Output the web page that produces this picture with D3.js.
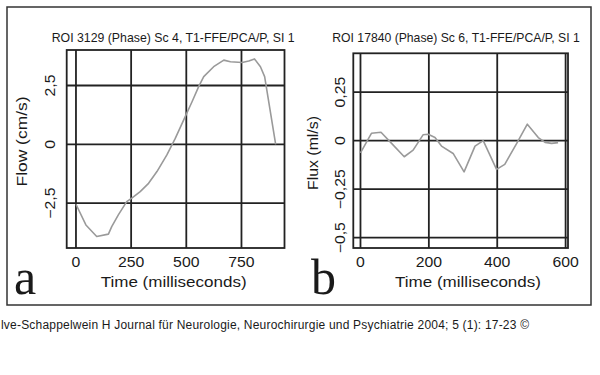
<!DOCTYPE html>
<html><head><meta charset="utf-8">
<script src="https://cdn.jsdelivr.net/npm/d3@7"></script>
<style>
html,body{margin:0;padding:0;background:#fff;}
svg{display:block;}
text{font-family:"Liberation Sans",Arial,sans-serif;fill:#1a1a1a;}
</style></head>
<body>
<script>
// ---- data ----
const aTime = [0,45,94,147,162,192,230,253,291,329,367,412,450,495,526,556,579,624,670,700,753,783,809,836,855,905];
const aFlow = [-2.55,-3.43,-3.92,-3.82,-3.50,-3.0,-2.44,-2.29,-2.01,-1.66,-1.16,-0.45,0.25,1.18,1.81,2.45,2.88,3.30,3.58,3.51,3.48,3.54,3.63,3.30,2.88,0];
const bTime = [0,32,60,91,128,154,183,198,218,237,271,303,335,359,398,422,457,488,520,540,559,578];
const bFlux = [-0.0625,0.038,0.043,-0.014,-0.083,-0.049,0.030,0.033,0.016,-0.028,-0.066,-0.161,-0.028,0,-0.148,-0.122,-0.014,0.085,0.016,-0.009,-0.014,-0.010];
const aXTicks = [0,250,500,750];
const aYTicks = [-2.5,0,2.5];
const aYTickLabels = ["\u22122,5","0","2,5"];
const bXTicks = [0,200,400,600];
const bYTicks = [-0.5,-0.25,0,0.25];
const bYTickLabels = ["\u22120,5","\u22120,25","0","0,25"];
const titles = ["ROI 3129 (Phase) Sc 4, T1-FFE/PCA/P, SI 1","ROI 17840 (Phase) Sc 6, T1-FFE/PCA/P, SI 1"];
const yTitles = ["Flow (cm/s)","Flux (ml/s)"];
const xTitle = "Time (milliseconds)";
const panelLetters = ["a","b"];
const footer = "lve-Schappelwein H Journal f\u00fcr Neurologie, Neurochirurgie und Psychiatrie 2004; 5 (1): 17-23 \u00a9";

const W=600,H=375;
const svg=d3.select("body").append("svg").attr("width",W).attr("height",H);

// outer frame
svg.append("rect").attr("x",7).attr("y",7).attr("width",584).attr("height",298)
  .attr("fill","none").attr("stroke","#333").attr("stroke-width",1.5);

const panels=[
 {time:aTime,vals:aFlow,xt:aXTicks,yt:aYTicks,ytl:aYTickLabels,xd:[-42,945],yd:[-4.41,4.01],
  L:66.7,R:284.5,T:50,B:248,title:titles[0],tx:51.7,tw:243,ytitle:yTitles[0],ytx:26.5,ytw:90,ytc:141.5,
  ytickx:55,xtc:173.7,letter:panelLetters[0],lx:14,lw:21},
 {time:bTime,vals:bFlux,xt:bXTicks,yt:bYTicks,ytl:bYTickLabels,xd:[-21,607],yd:[-0.553,0.45],
  L:353.3,R:568,T:53.3,B:248,title:titles[1],tx:332.3,tw:247.5,ytitle:yTitles[1],ytx:317.5,ytw:74,ytc:153,
  ytickx:345,xtc:468,letter:panelLetters[1],lx:311,lw:22}
];

panels.forEach(p=>{
  const x=d3.scaleLinear().domain(p.xd).range([p.L,p.R]);
  const y=d3.scaleLinear().domain(p.yd).range([p.B,p.T]);
  const g=svg.append("g");
  // frame
  g.append("rect").attr("x",p.L).attr("y",p.T).attr("width",p.R-p.L).attr("height",p.B-p.T)
    .attr("fill","none").attr("stroke","#222").attr("stroke-width",1.8);
  // grid
  g.selectAll(".vg").data(p.xt).enter().append("line")
    .attr("x1",d=>x(d)).attr("x2",d=>x(d)).attr("y1",p.T).attr("y2",p.B)
    .attr("stroke","#222").attr("stroke-width",1.8);
  g.selectAll(".hg").data(p.yt).enter().append("line")
    .attr("y1",d=>y(d)).attr("y2",d=>y(d)).attr("x1",p.L).attr("x2",p.R)
    .attr("stroke","#222").attr("stroke-width",1.8);
  // curve
  const line=d3.line().x((d,i)=>x(p.time[i])).y(d=>y(d));
  g.append("path").datum(p.vals).attr("d",line).attr("fill","none")
    .attr("stroke","#9a9a9a").attr("stroke-width",1.6).attr("stroke-linejoin","round");
  // x tick labels
  g.selectAll(".xl").data(p.xt).enter().append("text")
    .attr("transform",d=>`translate(${x(d)},267) scale(1.13,1)`)
    .attr("text-anchor","middle").style("font-size","14px").text(d=>d);
  // y tick labels
  g.selectAll(".yl").data(p.yt).enter().append("text")
    .attr("transform",d=>`translate(${p.ytickx},${y(d)}) rotate(-90) scale(1.13,1)`)
    .attr("text-anchor","middle").style("font-size","14px").text((d,i)=>p.ytl[i]);
  // title
  g.append("text").attr("x",p.tx).attr("y",41.7).style("font-size","13px")
    .attr("textLength",p.tw).attr("lengthAdjust","spacingAndGlyphs").text(p.title);
  // x title
  g.append("text").attr("x",p.xtc-73).attr("y",287).style("font-size","15px")
    .attr("textLength",146).attr("lengthAdjust","spacingAndGlyphs").text(xTitle);
  // y title
  g.append("text").attr("transform",`translate(${p.ytx},${p.ytc+p.ytw/2}) rotate(-90)`)
    .style("font-size","15px").attr("textLength",p.ytw).attr("lengthAdjust","spacingAndGlyphs").text(p.ytitle);
  // letter
  g.append("text").attr("x",p.lx).attr("y",294).style("font-family","'Liberation Serif',serif")
    .style("font-size","50px").text(p.letter);
});

svg.append("text").attr("x",1).attr("y",329).style("font-size","12px")
  .attr("textLength",528).attr("lengthAdjust","spacing").text(footer);
</script>
</body></html>
